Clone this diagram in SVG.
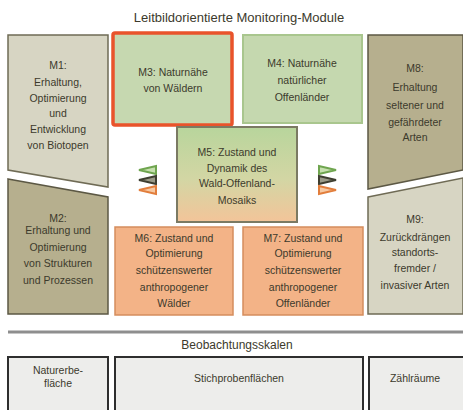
<svg xmlns="http://www.w3.org/2000/svg" width="463" height="410" viewBox="0 0 463 410">
<defs>
<linearGradient id="g5" x1="0" y1="0" x2="0" y2="1">
<stop offset="0" stop-color="#b8d59c"/>
<stop offset="0.55" stop-color="#d3d6a4"/>
<stop offset="1" stop-color="#f3c499"/>
</linearGradient>
<style>
text{font-family:"Liberation Sans",Arial,sans-serif;font-size:10.5px;fill:#3c3a2c;text-anchor:middle}
.title{font-size:13px}
.lightbeige{fill:#d7d5c3;stroke:#6f6b55;stroke-width:1.5}
.darkbeige{fill:#b6af8e;stroke:#5c5844;stroke-width:1.5}
.green{fill:#c5d8af;stroke:#a9c68e;stroke-width:2}
.orange{fill:#f3b387;stroke:#d58d5d;stroke-width:1.5}
.scale{fill:#ededeb;stroke:#2e2e2e;stroke-width:2}
.tg{stroke:#6fa54f;fill:#c6e0ae;stroke-width:2}
.td{stroke:#3e3e30;fill:#9a9a88;stroke-width:2}
.to{stroke:#e27e3c;fill:#f7c9a2;stroke-width:2}
</style>
</defs>
<rect width="463" height="410" fill="#ffffff"/>
<text class="title" x="239" y="22">Leitbildorientierte Monitoring-Module</text>

<g id="M1">
<polygon class="lightbeige" points="8,35 108,35 108,187 8,170"/>
<text x="58" y="69">M1:</text>
<text x="58" y="86">Erhaltung,</text>
<text x="58" y="102">Optimierung</text>
<text x="58" y="117">und</text>
<text x="58" y="133">Entwicklung</text>
<text x="58" y="149">von Biotopen</text>
</g>
<g id="M2">
<polygon class="darkbeige" points="8,179 108,197 108,314 8,314"/>
<text x="58" y="222">M2:</text>
<text x="58" y="234">Erhaltung und</text>
<text x="58" y="251">Optimierung</text>
<text x="58" y="267">von Strukturen</text>
<text x="58" y="284">und Prozessen</text>
</g>
<g id="M3">
<rect x="113" y="33" width="119" height="92" rx="2" fill="#c6d8b0" stroke="#e9532b" stroke-width="3.5"/>
<text x="173" y="76">M3: Naturnähe</text>
<text x="173" y="92">von Wäldern</text>
</g>
<g id="M4">
<rect class="green" x="243" y="35" width="119" height="88"/>
<text x="302" y="67">M4: Naturnähe</text>
<text x="302" y="84">natürlicher</text>
<text x="302" y="101">Offenländer</text>
</g>
<g id="M8">
<polygon class="darkbeige" points="368,35 463,35 463,170 368,189"/>
<text x="415" y="72">M8:</text>
<text x="415" y="91">Erhaltung</text>
<text x="415" y="109">seltener und</text>
<text x="415" y="126">gefährdeter</text>
<text x="415" y="141">Arten</text>
</g>
<g id="M9">
<polygon class="lightbeige" points="368,197 463,178 463,314 368,314"/>
<text x="415" y="223">M9:</text>
<text x="415" y="241">Zurückdrängen</text>
<text x="415" y="256">standorts-</text>
<text x="415" y="272">fremder /</text>
<text x="415" y="289">invasiver Arten</text>
</g>
<g id="M5">
<rect x="177" y="127" width="120" height="95" fill="url(#g5)" stroke="#7b7a63" stroke-width="2"/>
<text x="237" y="156">M5: Zustand und</text>
<text x="237" y="172">Dynamik des</text>
<text x="237" y="187">Wald-Offenland-</text>
<text x="237" y="204">Mosaiks</text>
</g>
<g id="M6">
<rect class="orange" x="115" y="227" width="118" height="88"/>
<text x="174" y="242">M6: Zustand und</text>
<text x="174" y="257">Optimierung</text>
<text x="174" y="274">schützenswerter</text>
<text x="174" y="291">anthropogener</text>
<text x="174" y="307">Wälder</text>
</g>
<g id="M7">
<rect class="orange" x="243" y="227" width="120" height="88"/>
<text x="303" y="242">M7: Zustand und</text>
<text x="303" y="257">Optimierung</text>
<text x="303" y="274">schützenswerter</text>
<text x="303" y="291">anthropogener</text>
<text x="303" y="307">Offenländer</text>
</g>

<g id="connectors">
<polygon class="tg" points="139,170 156,166 156,174"/>
<polygon class="td" points="139,180 156,176 156,184"/>
<polygon class="to" points="139,190 156,186 156,194"/>
<polygon class="tg" points="336,170 319,166 319,174"/>
<polygon class="td" points="336,180 319,176 319,184"/>
<polygon class="to" points="336,190 319,186 319,194"/>
</g>

<line x1="8" y1="332" x2="463" y2="332" stroke="#8e8e8e" stroke-width="3"/>
<text class="title" x="237" y="349" style="font-size:12px">Beobachtungsskalen</text>

<g id="S1">
<rect class="scale" x="8" y="357" width="100" height="60"/>
<text x="58" y="374">Naturerbe-</text>
<text x="58" y="387">fläche</text>
</g>
<g id="S2">
<rect class="scale" x="115" y="357" width="248" height="60"/>
<text x="239" y="382">Stichprobenflächen</text>
</g>
<g id="S3">
<rect class="scale" x="369" y="357" width="100" height="60"/>
<text x="415" y="382">Zählräume</text>
</g>
</svg>
